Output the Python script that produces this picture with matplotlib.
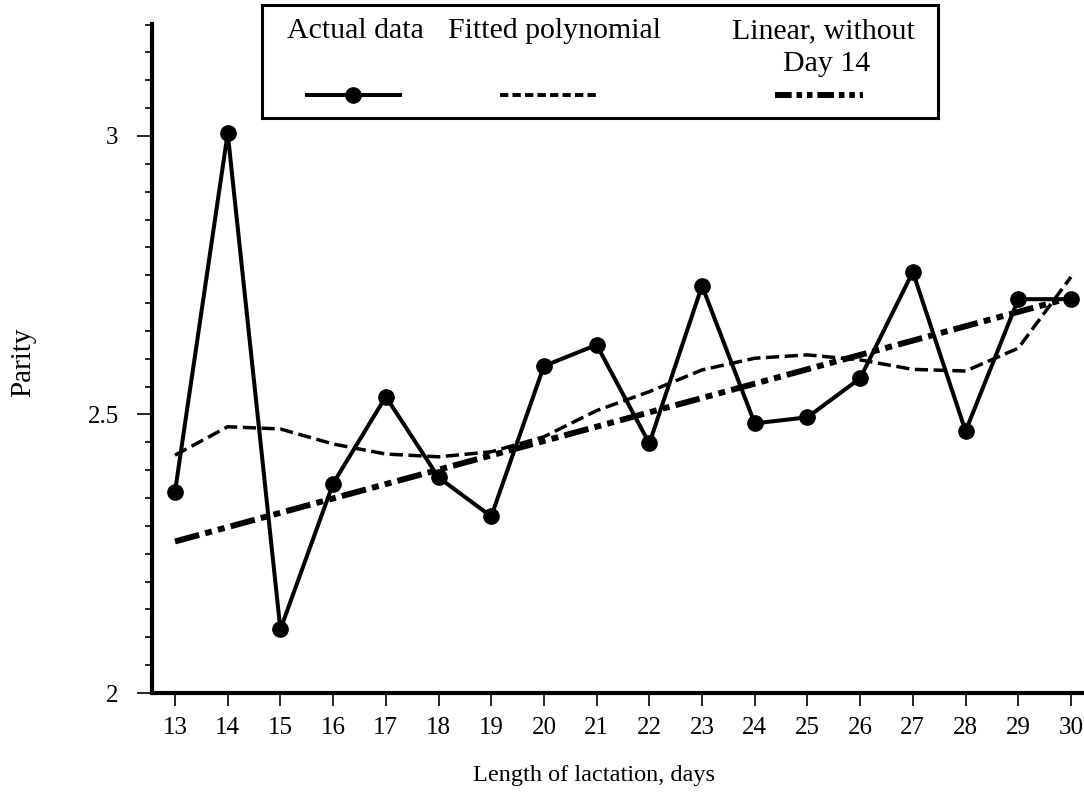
import matplotlib
matplotlib.use("Agg")
import matplotlib.pyplot as plt
from matplotlib.lines import Line2D
from matplotlib.ticker import MultipleLocator, FixedLocator

# ---- data ----
days = [13, 14, 15, 16, 17, 18, 19, 20, 21, 22, 23, 24, 25, 26, 27, 28, 29, 30]
actual = [2.361, 3.005, 2.114, 2.376, 2.532, 2.387, 2.317, 2.587, 2.625, 2.448,
          2.731, 2.484, 2.495, 2.565, 2.756, 2.470, 2.707, 2.707]
fitted = [2.427, 2.478, 2.474, 2.447, 2.429, 2.424, 2.433, 2.460, 2.507, 2.541,
          2.580, 2.601, 2.607, 2.598, 2.581, 2.578, 2.619, 2.747]
linear_days = [13, 30]
linear_vals = [2.272, 2.710]
ytick_labels = ["2", "2.5", "3"]
ytick_vals = [2.0, 2.5, 3.0]
legend_labels = ["Actual data", "Fitted polynomial", "Linear, without", "Day 14"]

plt.rcParams['font.family'] = ['Liberation Serif', 'DejaVu Serif']
plt.rcParams['lines.scale_dashes'] = False

W, H = 1084, 794
fig = plt.figure(figsize=(W / 100, H / 100), dpi=100)
ax = fig.add_axes([152 / W, (H - 693) / H, (W - 152) / W, (693 - 24) / H])

dash_fit = (0, (9.5, 4.0))
dash_lin = (0, (18, 4.5, 5, 4.5, 5, 4.5))

ax.plot(days, fitted, color='black', lw=2.5, linestyle=dash_fit, dash_capstyle='butt', zorder=2)
ax.plot(linear_days, linear_vals, color='black', lw=4.3, linestyle=dash_lin, dash_capstyle='butt', zorder=2)
ax.plot(days, actual, color='black', lw=2.9, marker='o', markersize=11, zorder=3)

ax.set_xlim(12.564, 30.247)
ax.set_ylim(2.0, 3.201)

for s in ['top', 'right']:
    ax.spines[s].set_visible(False)
for s in ['left', 'bottom']:
    ax.spines[s].set_linewidth(3)

ax.xaxis.set_major_locator(FixedLocator(days))
ax.set_xticklabels([str(d) for d in days])
ax.yaxis.set_major_locator(FixedLocator(ytick_vals))
ax.set_yticklabels(ytick_labels)
ax.yaxis.set_minor_locator(MultipleLocator(0.05))

ax.tick_params(axis='x', which='major', length=9.5, width=1.2, pad=8, labelsize=18, direction='out')
ax.tick_params(axis='y', which='major', length=11, width=1.2, pad=13, labelsize=18, direction='out')
ax.tick_params(axis='y', which='minor', length=5, width=1.2, direction='out')

ax.set_xlabel("Length of lactation, days", fontsize=17.5)
ax.xaxis.set_label_coords((594 - 152) / 932, -(775 - 693) / 669)
ax.xaxis.label.set_va('center')
ax.set_ylabel("Parity", fontsize=21)
ax.yaxis.set_label_coords(-(152 - 23) / 932, (693 - 362) / 669)
ax.yaxis.label.set_va('center')

# ---- legend box (pixel-like coordinates) ----
lx0, lx1, ly0, ly1 = 262, 938, 5, 118
lax = fig.add_axes([lx0 / W, 1 - ly1 / H, (lx1 - lx0) / W, (ly1 - ly0) / H])
lax.set_xlim(lx0, lx1)
lax.set_ylim(ly1, ly0)
lax.set_xticks([])
lax.set_yticks([])
for s in lax.spines.values():
    s.set_linewidth(2.2)
lax.set_zorder(5)

fs = 21.5
lax.text(355, 38, legend_labels[0], ha='center', va='baseline', fontsize=fs)
lax.text(555, 38, legend_labels[1], ha='center', va='baseline', fontsize=fs)
lax.text(823, 38, legend_labels[2], ha='center', va='baseline', fontsize=fs)
lax.text(827, 71, legend_labels[3], ha='center', va='baseline', fontsize=fs)

lax.add_line(Line2D([307, 400], [95, 95], color='black', lw=2.9))
lax.add_line(Line2D([353], [95], color='black', marker='o', markersize=11, lw=0))
lax.add_line(Line2D([500, 597], [95, 95], color='black', lw=2.8, linestyle=(0, (6, 3)), dash_capstyle='butt'))
lax.add_line(Line2D([775, 863], [95, 95], color='black', lw=4.3, linestyle=(0, (12, 3.5, 4, 3.5, 4, 3.5)), dash_capstyle='butt'))

fig.savefig("out.png", dpi=100)
